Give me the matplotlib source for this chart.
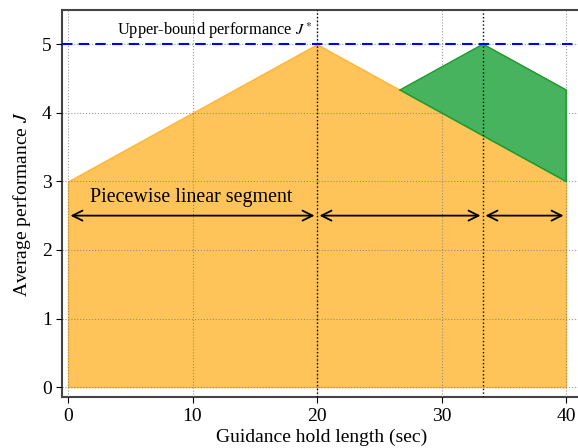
import matplotlib
matplotlib.use("Agg")
import matplotlib.pyplot as plt
import numpy as np

plt.rcParams['font.family'] = ['Liberation Serif', 'DejaVu Serif']
plt.rcParams['mathtext.fontset'] = 'stix'

# Piecewise performance profile (orange) and shifted profile (green)
base_x = [0, 20, 40]
base_y = [3, 5, 3]
shift_x = [26.67, 33.33, 40]
shift_y = [4.333, 5, 4.333]
upper_bound = 5
breakpoints = [0, 20, 33.33, 40]
arrow_y = 2.5
x_ticks = [0, 10, 20, 30, 40]
y_ticks = [0, 1, 2, 3, 4, 5]

fig = plt.figure(figsize=(5.78, 4.48), dpi=100)
ax = fig.add_axes([0.1073, 0.113, 0.9, 0.865])

# orange region under the base profile
ax.fill_between(base_x, base_y, 0, color='orange', alpha=0.65, linewidth=1.0,
                edgecolor='orange', zorder=2)

# green region between the shifted profile and the base profile
gx = np.array(shift_x)
g_low = np.interp(gx, base_x, base_y)
ax.fill_between(gx, shift_y, g_low, color='#48b35f', alpha=1.0, zorder=3)
ax.plot(shift_x + [shift_x[-1]], shift_y + [g_low[-1]], color='#1f9a2a', lw=1.0, zorder=4)
ax.plot([shift_x[0], shift_x[-1]], [g_low[0], g_low[-1]], color='#1f9a2a', lw=1.0, zorder=4)

ax.axhline(upper_bound, color='blue', ls='--', lw=1.5, dashes=(5, 3), zorder=5)
ax.text(11.8, 5.2, r'Upper-bound performance $J^*$', fontsize=11.8, ha='center', va='center')

for bx in breakpoints[1:3]:
    ax.axvline(bx, color='black', ls=':', lw=1.0, zorder=6)

for a, b in zip(breakpoints[:-1], breakpoints[1:]):
    ax.annotate('', xy=(a + 0.2, arrow_y), xytext=(b - 0.2, arrow_y),
                arrowprops=dict(arrowstyle='<->', color='black', lw=1.3,
                                mutation_scale=18, shrinkA=0, shrinkB=0), zorder=7)
ax.text(1.8, 2.76, 'Piecewise linear segment', fontsize=14.4, ha='left', va='center')

ax.set_xlim(-0.48, 41.3)
ax.set_ylim(-0.15, 5.5)
ax.set_xticks(x_ticks)
ax.set_yticks(y_ticks)
ax.tick_params(labelsize=14, direction='out', length=4)
ax.grid(True, ls=':', color='gray', lw=0.8, alpha=0.8)
ax.set_axisbelow(False)
ax.set_xlabel('Guidance hold length (sec)', fontsize=14, labelpad=3)
ax.set_ylabel(r'Average performance $J$', fontsize=14, labelpad=6)
for s in ax.spines.values():
    s.set_color('#444444')
    s.set_linewidth(1.5)

fig.savefig('out.png', dpi=100)
